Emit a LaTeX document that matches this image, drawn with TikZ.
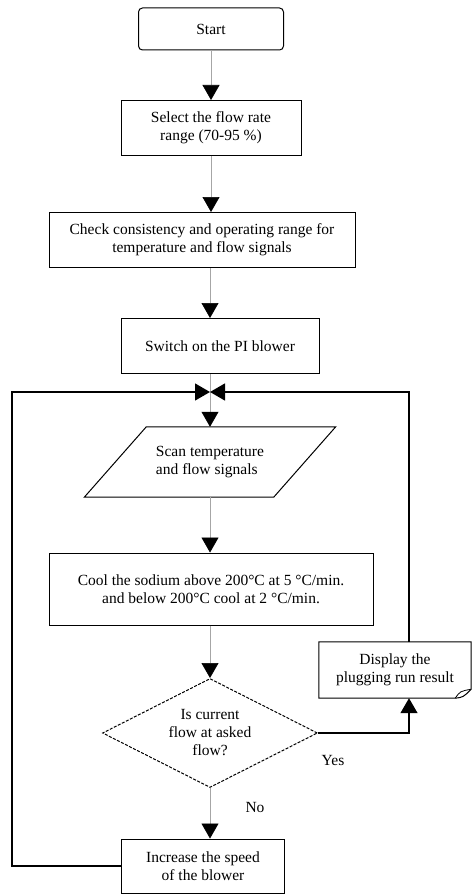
\documentclass[tikz,border=0pt]{standalone}
\usepackage{fontspec}
\setmainfont{Liberation Serif}
\usetikzlibrary{arrows.meta,shapes.geometric}

\tikzset{
  box/.style={draw, line width=1pt, minimum height=55pt, align=center, inner sep=2pt},
  line/.style={draw=gray!70, line width=0.6pt},
  back/.style={draw=black, line width=1.3pt},
  tip/.style={-{Triangle[width=17pt,length=15pt,black]}},
}

\begin{document}
\begin{tikzpicture}[x=1pt,y=-1pt,font=\fontsize{15.5}{18}\selectfont]
\useasboundingbox (0,0) rectangle (471,896);
\node[box, rounded corners=4pt, minimum width=145pt, minimum height=42pt] (start) at (211,29) {Start};
\node[box, minimum width=180pt] (select) at (211,128) {Select the flow rate\\range (70-95 \%)};
\node[box, minimum width=306pt] (check) at (202,240) {Check consistency and operating range for\\temperature and flow signals};
\node[box, minimum width=198pt] (switch) at (220,346) {Switch on the PI blower};
\node[minimum width=189pt, minimum height=70pt, align=left] (scan) at (210,462) {Scan temperature\\and flow signals};
\node[box, minimum width=324pt, minimum height=72pt] (cool) at (211,589) {Cool the sodium above 200°C at 5 °C/min.\\and below 200°C cool at 2 °C/min.};
\node[draw, diamond, dashed, dash pattern=on 3pt off 1.5pt, line width=1pt, aspect=2, inner sep=0pt,
      minimum width=215pt, minimum height=109pt, align=center] (dia) at (210,733) {Is current\\flow at asked\\flow?};
\node[minimum width=152pt, minimum height=56pt, align=center] (disp) at (395,670) {Display the\\plugging run result};
\node[box, minimum width=163pt, minimum height=54pt] (inc) at (203,866) {Increase the speed\\of the blower};
\node (yes) at (333,760) {Yes};
\node (no) at (255,807) {No};

\coordinate (m) at (210,392);
\coordinate (lft) at (12,392);
\coordinate (rgt) at (409,392);

% input and display shapes
\draw[line width=1pt] ([xshift=31pt]scan.north west) -- ([xshift=31pt]scan.north east)
  -- ([xshift=-31pt]scan.south east) -- ([xshift=-31pt]scan.south west) -- cycle;
\draw[line width=1pt] ([yshift=9pt]disp.south east) -- (disp.north east) -- (disp.north west)
  -- (disp.south west) -- ([xshift=-16pt]disp.south east)
  .. controls ([xshift=-8pt,yshift=1pt]disp.south east) .. ([yshift=9pt]disp.south east);
\draw[line width=0.8pt] ([xshift=-16pt]disp.south east)
  .. controls ([xshift=-11pt,yshift=7pt]disp.south east) .. ([yshift=9pt]disp.south east);

% main flow
\path[line,tip] (start) -- (select);
\path[line,tip] (select.south) -- (select.south |- check.north);
\path[line,tip] (check.south -| m) -- (switch.north -| m);
\path[line,tip] (switch.south -| m) -- (scan.north -| m);
\path[line,tip] (scan.south -| m) -- (cool.north -| m);
\path[line,tip] (cool.south -| m) -- (dia.north);
\path[line,tip] (dia.south) -- (inc.north -| m);

% loops back
\path[back,tip] (dia.east) -| (disp.south -| rgt);
\path[back,tip] (inc.west) -| (lft) -- (m);
\path[back,tip] (disp.north -| rgt) -- (rgt) -- (m);
\end{tikzpicture}
\end{document}
